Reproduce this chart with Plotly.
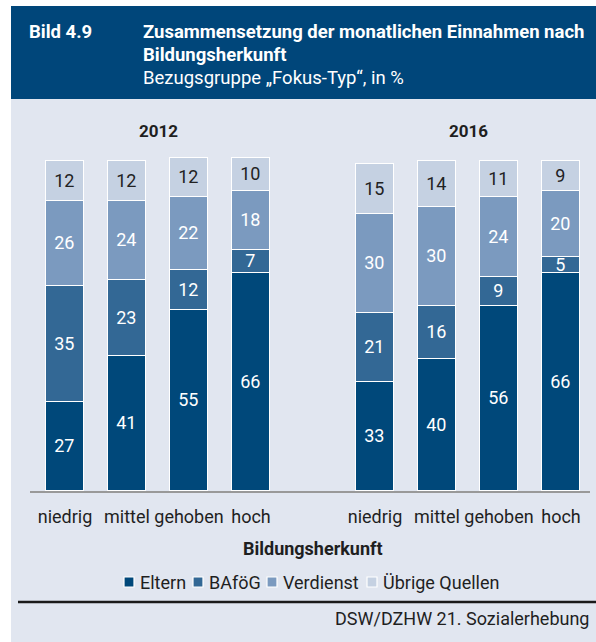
import plotly.graph_objects as go

categories = ["niedrig", "mittel", "gehoben", "hoch"]
years = ["2012", "2016"]
series_names = ["Eltern", "BAföG", "Verdienst", "Übrige Quellen"]

eltern_2012 = [27, 41, 55, 66]
bafoeg_2012 = [35, 23, 12, 7]
verdienst_2012 = [26, 24, 22, 18]
uebrige_2012 = [12, 12, 12, 10]

eltern_2016 = [33, 40, 56, 66]
bafoeg_2016 = [21, 16, 9, 5]
verdienst_2016 = [30, 30, 24, 20]
uebrige_2016 = [15, 14, 11, 9]

colors = ["#00487a", "#336895", "#7b9abf", "#c5d1e2"]
text_colors = ["white", "white", "white", "#222222"]
FONT = "Roboto"
TXT = "#1f1f1f"

W, H = 596, 642
L, R, T, B = 30, 590, 120, 491  # plot area in pixels


def px(xpix):
    return (xpix - L) / (R - L)


def py(ypix):
    return (B - ypix) / (B - T)


# positions: 4 bars per group, one empty slot between groups
xpos = [g * 5 + i for g in range(len(years)) for i in range(len(categories))]
ticktext = categories * len(years)

data_sets = [
    eltern_2012 + eltern_2016,
    bafoeg_2012 + bafoeg_2016,
    verdienst_2012 + verdienst_2016,
    uebrige_2012 + uebrige_2016,
]

fig = go.Figure()
for name, vals, col, tcol in zip(series_names, data_sets, colors, text_colors):
    fig.add_trace(go.Bar(
        x=xpos, y=vals, name=name, width=0.6,
        marker=dict(color=col, line=dict(color="white", width=1.5)),
        text=[str(v) for v in vals], textposition="inside",
        insidetextanchor="middle", textangle=0,
        textfont=dict(family=FONT, size=18, color=tcol),
        hoverinfo="skip", showlegend=False,
    ))

xmin = (L - 65) / 62
xmax = (R - 65) / 62
ymax = (B - T) / 3.3

shapes = [
    # light background
    dict(type="rect", xref="paper", yref="paper", x0=px(11), x1=px(596), y0=py(642), y1=py(99),
         fillcolor="#e1e6f0", line=dict(width=0), layer="below"),
    # header band
    dict(type="rect", xref="paper", yref="paper", x0=px(11), x1=px(596), y0=py(99), y1=py(6),
         fillcolor="#00467a", line=dict(width=0), layer="below"),
    # bottom rule
    dict(type="line", xref="paper", yref="paper", x0=px(18), x1=px(596), y0=py(602), y1=py(602),
         line=dict(color="#1a1a1a", width=2.5)),
]

annotations = [
    dict(text="<b>Bild 4.9</b>", x=px(27), y=py(32), xref="paper", yref="paper",
         xanchor="left", yanchor="middle", showarrow=False,
         font=dict(family=FONT, size=18.5, color="white")),
    dict(text="<b>Zusammensetzung der monatlichen Einnahmen nach</b>", x=px(141), y=py(32),
         xref="paper", yref="paper", xanchor="left", yanchor="middle", showarrow=False,
         font=dict(family=FONT, size=18.5, color="white")),
    dict(text="<b>Bildungsherkunft</b>", x=px(141), y=py(55),
         xref="paper", yref="paper", xanchor="left", yanchor="middle", showarrow=False,
         font=dict(family=FONT, size=18.5, color="white")),
    dict(text="Bezugsgruppe „Fokus-Typ“, in %", x=px(141), y=py(78),
         xref="paper", yref="paper", xanchor="left", yanchor="middle", showarrow=False,
         font=dict(family=FONT, size=18.5, color="white")),
    dict(text="<b>Bildungsherkunft</b>", x=px(313), y=py(548),
         xref="paper", yref="paper", xanchor="center", yanchor="middle", showarrow=False,
         font=dict(family=FONT, size=18, color=TXT)),
    dict(text="DSW/DZHW 21. Sozialerhebung", x=px(591), y=py(618),
         xref="paper", yref="paper", xanchor="right", yanchor="middle", showarrow=False,
         font=dict(family=FONT, size=18, color=TXT)),
]
for g, yr in enumerate(years):
    annotations.append(dict(text=f"<b>{yr}</b>", x=g * 5 + 1.5, y=py(131), xref="x", yref="paper",
                            xanchor="center", yanchor="middle", showarrow=False,
                            font=dict(family=FONT, size=17, color=TXT)))

# legend: swatch + label per series
legend_swatch_x = [124, 193, 267, 367]
legend_y = 582
for name, col, sx in zip(series_names, colors, legend_swatch_x):
    shapes.append(dict(type="rect", xref="paper", yref="paper",
                       x0=px(sx), x1=px(sx + 10), y0=py(legend_y + 5), y1=py(legend_y - 5),
                       fillcolor=col, line=dict(color="white", width=1.2)))
    annotations.append(dict(text=name, x=px(sx + 14), y=py(legend_y), xref="paper", yref="paper",
                            xanchor="left", yanchor="middle", showarrow=False,
                            font=dict(family=FONT, size=18, color=TXT)))

fig.update_layout(
    width=W, height=H,
    margin=dict(l=L, r=W - R, t=T, b=H - B, pad=0),
    paper_bgcolor="white", plot_bgcolor="rgba(0,0,0,0)",
    barmode="stack", bargap=0,
    font=dict(family=FONT, size=18, color=TXT),
    uniformtext=dict(minsize=18, mode="show"),
    xaxis=dict(range=[xmin, xmax], tickvals=xpos, ticktext=ticktext, showgrid=False,
               zeroline=False, showline=True, linecolor="#999999", linewidth=2,
               ticks="", ticklabelstandoff=8, tickfont=dict(family=FONT, size=18, color=TXT),
               fixedrange=True),
    yaxis=dict(range=[0, ymax], visible=False, fixedrange=True),
    shapes=shapes, annotations=annotations,
    showlegend=False,
)

fig.write_html("out.html", config={"displayModeBar": False},
               post_script="document.body.style.margin='0';document.body.style.overflow='hidden';")
